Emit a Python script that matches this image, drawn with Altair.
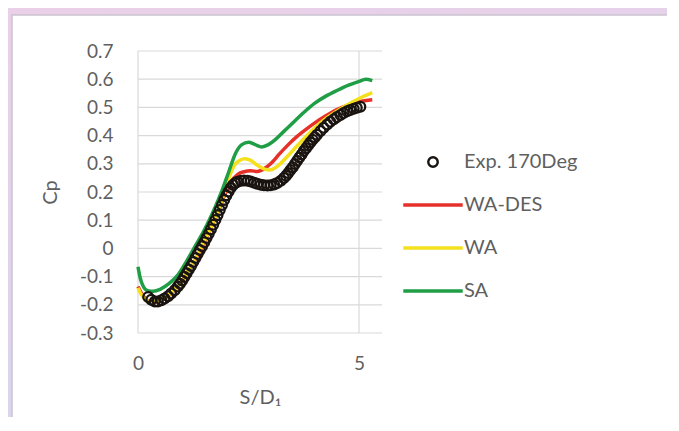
import altair as alt
import pandas as pd

# ---------------- data ----------------
series_names = ["Exp. 170Deg", "WA-DES", "WA", "SA"]
series_colors = ["#1a1410", "#e5312a", "#f4e01c", "#1f9e46"]

exp_x = [0.23, 0.30, 0.38, 0.45, 0.53, 0.60, 0.68, 0.75, 0.83, 0.90, 0.95, 1.00,
         1.05, 1.10, 1.15, 1.20, 1.25, 1.30, 1.35, 1.40, 1.45, 1.50, 1.55, 1.60,
         1.65, 1.70, 1.75, 1.80, 1.85, 1.90, 1.95, 2.00, 2.05, 2.10, 2.15, 2.20,
         2.25, 2.33, 2.40, 2.48, 2.55, 2.63, 2.70, 2.78, 2.85, 2.93, 3.00, 3.08,
         3.15, 3.23, 3.30, 3.35, 3.40, 3.45, 3.50, 3.55, 3.60, 3.65, 3.70, 3.75,
         3.80, 3.85, 3.90, 3.95, 4.00, 4.05, 4.13, 4.20, 4.28, 4.35, 4.43, 4.50,
         4.58, 4.65, 4.73, 4.80, 4.88, 4.95, 5.03]
exp_cp = [-0.172, -0.182, -0.188, -0.188, -0.184, -0.178, -0.170, -0.160, -0.148, -0.135,
          -0.125, -0.114, -0.101, -0.088, -0.075, -0.062, -0.048, -0.034, -0.020, -0.006,
          0.008, 0.022, 0.037, 0.052, 0.068, 0.084, 0.101, 0.118, 0.136, 0.154,
          0.172, 0.188, 0.202, 0.215, 0.225, 0.232, 0.236, 0.240, 0.241, 0.240,
          0.237, 0.233, 0.229, 0.226, 0.224, 0.223, 0.224, 0.227, 0.232, 0.240,
          0.250, 0.258, 0.267, 0.278, 0.288, 0.299, 0.311, 0.322, 0.333, 0.345,
          0.355, 0.366, 0.376, 0.385, 0.394, 0.403, 0.416, 0.428, 0.439, 0.449,
          0.458, 0.466, 0.473, 0.480, 0.486, 0.491, 0.495, 0.499, 0.502]

wades_x = [0.00, 0.08, 0.18, 0.30, 0.45, 0.60, 0.80, 1.00, 1.20, 1.40, 1.60, 1.80,
           1.95, 2.10, 2.25, 2.40, 2.55, 2.70, 2.85, 3.00, 3.20, 3.40, 3.60, 3.80,
           4.00, 4.25, 4.50, 4.75, 5.00, 5.30]
wades_cp = [-0.135, -0.160, -0.180, -0.190, -0.188, -0.178, -0.152, -0.115, -0.065, -0.010,
            0.055, 0.125, 0.185, 0.235, 0.262, 0.272, 0.275, 0.273, 0.282, 0.300,
            0.335, 0.368, 0.397, 0.422, 0.445, 0.470, 0.492, 0.508, 0.520, 0.527]

wa_x = [0.00, 0.08, 0.18, 0.30, 0.45, 0.60, 0.80, 1.00, 1.20, 1.40, 1.60, 1.80,
        1.95, 2.08, 2.18, 2.30, 2.42, 2.55, 2.70, 2.85, 2.98, 3.10, 3.25, 3.45,
        3.65, 3.85, 4.05, 4.30, 4.55, 4.80, 5.05, 5.30]
wa_cp = [-0.140, -0.165, -0.183, -0.190, -0.186, -0.176, -0.150, -0.112, -0.062, -0.006,
         0.058, 0.130, 0.195, 0.260, 0.295, 0.312, 0.318, 0.312, 0.295, 0.282,
         0.278, 0.285, 0.305, 0.338, 0.372, 0.405, 0.435, 0.466, 0.492, 0.515,
         0.535, 0.552]

sa_x = [0.00, 0.05, 0.12, 0.22, 0.35, 0.50, 0.70, 0.90, 1.10, 1.30, 1.50, 1.70,
        1.90, 2.05, 2.20, 2.35, 2.50, 2.65, 2.80, 2.95, 3.10, 3.30, 3.50, 3.75,
        4.00, 4.25, 4.50, 4.75, 5.00, 5.15, 5.30]
sa_cp = [-0.065, -0.105, -0.135, -0.150, -0.152, -0.145, -0.125, -0.095, -0.045, 0.010,
         0.065, 0.130, 0.205, 0.270, 0.335, 0.368, 0.376, 0.368, 0.360, 0.368,
         0.385, 0.415, 0.445, 0.482, 0.515, 0.540, 0.560, 0.578, 0.592, 0.600,
         0.595]

y_ticks = [-0.3, -0.2, -0.1, 0.0, 0.1, 0.2, 0.3, 0.4, 0.5, 0.6, 0.7]
x_ticks = [0, 5]
x_domain = [0, 5.52]
y_domain = [-0.3, 0.7]

# ---------------- tables ----------------
lines_df = pd.concat([
    pd.DataFrame({"s": wades_x, "cp": wades_cp, "series": "WA-DES"}),
    pd.DataFrame({"s": wa_x, "cp": wa_cp, "series": "WA"}),
    pd.DataFrame({"s": sa_x, "cp": sa_cp, "series": "SA"}),
], ignore_index=True)
exp_df = pd.DataFrame({"s": exp_x, "cp": exp_cp})
one = pd.DataFrame({"k": [0]})

W, H = 244, 282
FONT = "Lato"
GREY = "#5f5f5f"

xs = alt.Scale(domain=x_domain, nice=False, zero=False)
ys = alt.Scale(domain=y_domain, nice=False, zero=False)

x_axis = alt.Axis(values=x_ticks, title="S/D₁", domain=False, ticks=False, grid=False,
                  labelFont=FONT, labelFontSize=19, labelColor=GREY, labelPadding=21,
                  labelFlush=False, titleFont=FONT, titleFontSize=20, titleColor=GREY,
                  titleFontWeight="normal", titlePadding=14, zindex=1)
y_axis = alt.Axis(values=y_ticks, title="Cp", domain=False, ticks=False, grid=False,
                  labelExpr="datum.value == 0 ? '0' : toString(round(datum.value * 10) / 10)",
                  labelFont=FONT, labelFontSize=19, labelColor=GREY, labelPadding=25,
                  titleFont=FONT, titleFontSize=20, titleColor=GREY,
                  titleFontWeight="normal", titlePadding=19, zindex=1)

EXP = series_names[0]
CIRCLE = "M0.5,0A0.5,0.5 0 1,1 -0.5,0A0.5,0.5 0 1,1 0.5,0Z"
BAR = "M-3,-0.06H3V0.06H-3Z"
legend = alt.Legend(
    title=None, orient="none", legendX=284, legendY=100, padding=0,
    symbolType=alt.ExprRef(expr=f"datum.value === '{EXP}' ? '{CIRCLE}' : '{BAR}'"),
    symbolSize=361, symbolStrokeWidth=2.4, symbolFillColor="transparent",
    labelFont=FONT, labelFontSize=20, labelColor=GREY, labelOffset=20,
    rowPadding=22,
)

bg = alt.Chart(one).mark_rect(
    fill=alt.LinearGradient(gradient="linear",
                            stops=[alt.GradientStop(color="#ead0e8", offset=0),
                                   alt.GradientStop(color="#d9d5ee", offset=1)],
                            x1=0, y1=0, x2=0.3, y2=1),
    strokeWidth=0,
).encode(x=alt.value(-130), x2=alt.value(W + 290), y=alt.value(-43), y2=alt.value(H + 90))

panel = alt.Chart(one).mark_rect(fill="white", stroke="#cbc3d0", strokeWidth=1.5).encode(
    x=alt.value(-126), x2=alt.value(W + 286), y=alt.value(-36), y2=alt.value(H + 120))

grid_y = alt.Chart(pd.DataFrame({"cp": y_ticks})).mark_rule(color="#d9d9d9", strokeWidth=1.2).encode(
    y=alt.Y("cp:Q", scale=ys, axis=y_axis), x=alt.value(0), x2=alt.value(W))
grid_x = alt.Chart(pd.DataFrame({"s": x_ticks})).mark_rule(color="#d9d9d9", strokeWidth=1.2).encode(
    x=alt.X("s:Q", scale=xs, axis=x_axis), y=alt.value(0), y2=alt.value(H))

lines = alt.Chart(lines_df).mark_line(strokeWidth=3.5, interpolate="monotone").encode(
    x=alt.X("s:Q", scale=xs, axis=x_axis),
    y=alt.Y("cp:Q", scale=ys, axis=y_axis),
    color=alt.Color("series:N", scale=alt.Scale(domain=series_names, range=series_colors),
                    legend=legend),
)

pts = alt.Chart(exp_df).mark_point(shape="circle", filled=False, size=95, strokeWidth=2.3,
                                   color="#1a1410", opacity=1).encode(
    x=alt.X("s:Q", scale=xs, axis=x_axis),
    y=alt.Y("cp:Q", scale=ys, axis=y_axis),
)

chart = alt.layer(bg, panel, grid_y, grid_x, lines, pts).properties(
    width=W, height=H,
    padding={"left": 130, "top": 43, "right": 285, "bottom": 84},
    autosize=alt.AutoSizeParams(type="none"),
    background="#e4d4ea",
).configure_view(strokeWidth=0)

chart.save("out.html", embed_options={"renderer": "svg", "actions": False})
